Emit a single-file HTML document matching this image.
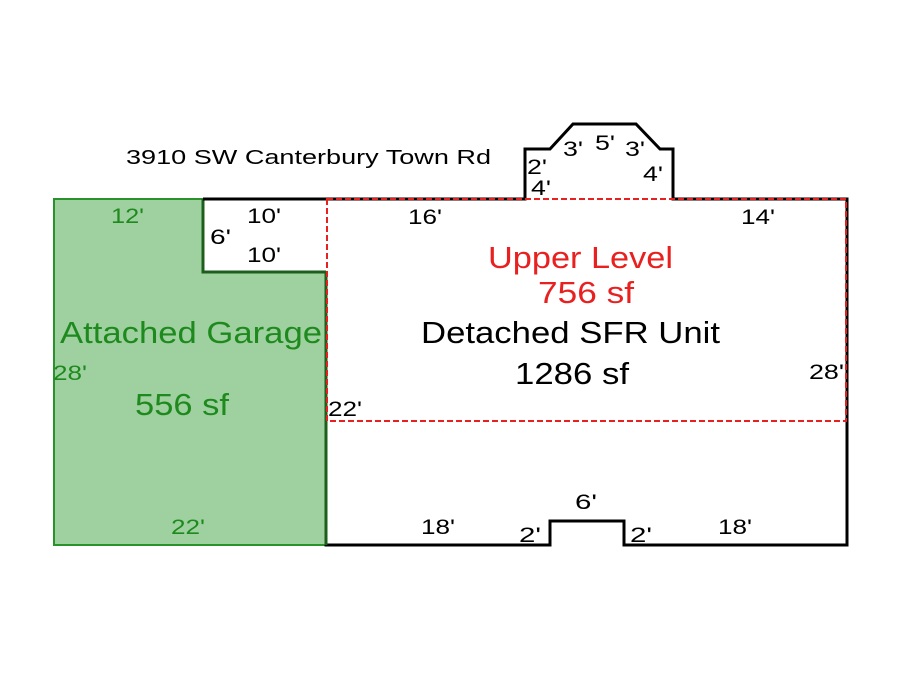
<!DOCTYPE html>
<html><head><style>
html,body{margin:0;padding:0;background:#fff;}
svg{display:block;}
text{font-family:"Liberation Sans",Arial,sans-serif;}
</style></head><body>
<svg width="900" height="675" viewBox="0 0 900 675" xmlns="http://www.w3.org/2000/svg">
<rect width="900" height="675" fill="#fff"/>
<path d="M54,199 H203 V272 H326 V545 H54 Z" fill="#9fd09f" stroke="#2a922a" stroke-width="2"/>
<path d="M203,199 V272 H326" fill="none" stroke="#1c5e1c" stroke-width="3"/>
<path d="M203,199 H525 V149 H550 L573,124 H636 L660,149 H673 V199 H847 V545 H624 V521 H550 V545 H326 V272" fill="none" stroke="#000" stroke-width="3"/>
<line x1="326" y1="272" x2="326" y2="545" stroke="#1c5e1c" stroke-width="3"/>
<rect x="327" y="199" width="519" height="222" fill="none" stroke="#e82020" stroke-width="2" stroke-dasharray="6,3"/>
<text x="126" y="164" font-size="20" fill="#000" textLength="365" lengthAdjust="spacingAndGlyphs">3910 SW Canterbury Town Rd</text>
<g font-size="21" fill="#000" lengthAdjust="spacingAndGlyphs">
<text x="527" y="174" textLength="20" lengthAdjust="spacingAndGlyphs">2'</text>
<text x="531" y="195" textLength="20" lengthAdjust="spacingAndGlyphs">4'</text>
<text x="563" y="156" textLength="20" lengthAdjust="spacingAndGlyphs">3'</text>
<text x="595" y="150" textLength="20" lengthAdjust="spacingAndGlyphs">5'</text>
<text x="625" y="156" textLength="20" lengthAdjust="spacingAndGlyphs">3'</text>
<text x="643" y="181" textLength="20" lengthAdjust="spacingAndGlyphs">4'</text>
<text x="247" y="223" textLength="34" lengthAdjust="spacingAndGlyphs">10'</text>
<text x="210" y="244" textLength="21" lengthAdjust="spacingAndGlyphs">6'</text>
<text x="247" y="262" textLength="34" lengthAdjust="spacingAndGlyphs">10'</text>
<text x="408" y="224" textLength="34" lengthAdjust="spacingAndGlyphs">16'</text>
<text x="741" y="224" textLength="34" lengthAdjust="spacingAndGlyphs">14'</text>
<text x="809" y="379" textLength="35" lengthAdjust="spacingAndGlyphs">28'</text>
<text x="328" y="416" textLength="34" lengthAdjust="spacingAndGlyphs">22'</text>
<text x="421" y="534" textLength="34" lengthAdjust="spacingAndGlyphs">18'</text>
<text x="519" y="542" textLength="22" lengthAdjust="spacingAndGlyphs">2'</text>
<text x="575" y="509" textLength="22" lengthAdjust="spacingAndGlyphs">6'</text>
<text x="630" y="542" textLength="22" lengthAdjust="spacingAndGlyphs">2'</text>
<text x="718" y="534" textLength="34" lengthAdjust="spacingAndGlyphs">18'</text>
</g>
<g fill="#1e8a1e">
<text x="111" y="223" font-size="21" textLength="33" lengthAdjust="spacingAndGlyphs">12'</text>
<text x="53" y="380" font-size="21" textLength="34" lengthAdjust="spacingAndGlyphs">28'</text>
<text x="171" y="534" font-size="21" textLength="34" lengthAdjust="spacingAndGlyphs">22'</text>
<text x="60" y="343" font-size="31" textLength="262" lengthAdjust="spacingAndGlyphs">Attached Garage</text>
<text x="135" y="415" font-size="31" textLength="94" lengthAdjust="spacingAndGlyphs">556 sf</text>
</g>
<g fill="#e82020" font-size="31">
<text x="488" y="268" textLength="185" lengthAdjust="spacingAndGlyphs">Upper Level</text>
<text x="538" y="303" textLength="96" lengthAdjust="spacingAndGlyphs">756 sf</text>
</g>
<g fill="#000" font-size="31">
<text x="421" y="343" textLength="299" lengthAdjust="spacingAndGlyphs">Detached SFR Unit</text>
<text x="515" y="384" textLength="114" lengthAdjust="spacingAndGlyphs">1286 sf</text>
</g>
</svg>
</body></html>
